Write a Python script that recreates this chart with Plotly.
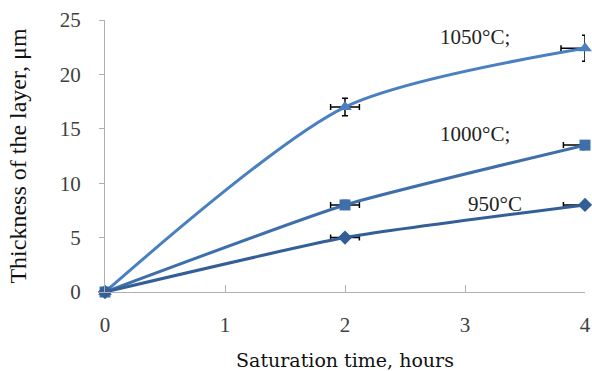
import plotly.graph_objects as go

hours = [0, 2, 4]
t950 = [0, 5, 8]
t1000 = [0, 8, 13.5]
t1050 = [0, 17, 22.4]
err_y_950 = [0, 0.3, 0.3]
err_y_1000 = [0, 0.4, 0.4]
err_y_1050 = [0, 0.8, 1.2]
err_x_950 = [0, 0.12, 0.18]
err_x_1000 = [0, 0.12, 0.18]
err_x_1050 = [0, 0.12, 0.2]
labels = ["950°C", "1000°C;", "1050°C;"]
label_pos = [(3.25, 8.1), (3.08, 14.5), (3.08, 23.4)]

serif = "Liberation Serif"
wide_serif = "DejaVu Serif"

fig = go.Figure()
series = [
    (t1050, err_y_1050, err_x_1050, "#4a7fc0", "triangle-up", 12, 0.75),
    (t1000, err_y_1000, err_x_1000, "#3e6faa", "square", 11, 0.5),
    (t950, err_y_950, err_x_950, "#345f96", "diamond", 11, 0.5),
]
for y, ey, ex, col, sym, sz, sm in series:
    fig.add_trace(go.Scatter(
        x=hours, y=y, mode="lines+markers",
        line=dict(color=col, width=3, shape="spline", smoothing=sm),
        marker=dict(symbol=sym, size=sz, color=col),
        error_y=dict(type="data", array=ey, color="black", thickness=1.5, width=3),
        error_x=dict(type="data", array=ex, color="black", thickness=1.5, width=3),
        showlegend=False, hoverinfo="skip", cliponaxis=False,
    ))

for (lx, ly), txt in zip(label_pos, labels):
    fig.add_annotation(x=lx, y=ly, text=txt, showarrow=False,
                       font=dict(family=serif, size=21, color="#222"))

fig.update_layout(
    width=592, height=371,
    margin=dict(l=105, r=7, t=20, b=79),
    plot_bgcolor="white", paper_bgcolor="white",
    font=dict(family=serif, size=21, color="#404040"),
    xaxis=dict(range=[0, 4], tickvals=[0, 1, 2, 3, 4], showgrid=False, zeroline=False,
               showline=True, linecolor="#b0b0b0", linewidth=1,
               ticks="inside", ticklen=7, tickcolor="#b0b0b0",
               tickfont=dict(family=serif, size=21, color="#404040"),
               ticklabelstandoff=14, automargin=False,
               title=dict(text="Saturation time, hours",
                          font=dict(family=wide_serif, size=19, color="#111"), standoff=18)),
    yaxis=dict(range=[0, 25], tickvals=[0, 5, 10, 15, 20, 25], showgrid=False, zeroline=False,
               showline=True, linecolor="#b0b0b0", linewidth=1,
               ticks="outside", ticklen=5, tickcolor="#b0b0b0",
               tickfont=dict(family=serif, size=21, color="#404040"),
               ticklabelstandoff=14, automargin=False,
               title=dict(text="Thickness of the layer, μm",
                          font=dict(family=serif, size=24, color="#111"), standoff=26)),
)

fig.write_html("out.html")
